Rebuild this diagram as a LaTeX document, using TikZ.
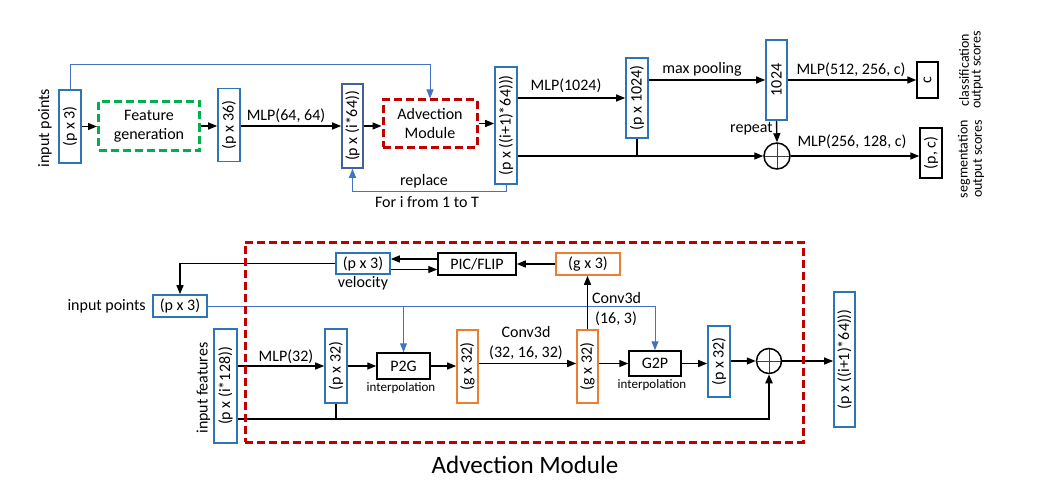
\documentclass[tikz,border=0pt]{standalone}
\usepackage{fontspec}
\setmainfont{Carlito}
\usepackage{graphicx}
\usetikzlibrary{arrows.meta}
\definecolor{boxblue}{HTML}{2E75B6}
\definecolor{navyblue}{HTML}{44619E}
\definecolor{linkblue}{HTML}{4472C4}
\definecolor{boxorange}{HTML}{ED7D31}
\definecolor{darkred}{HTML}{C00000}
\definecolor{fgreen}{HTML}{00B050}
\newcommand{\rotlabel}[1]{\rotatebox{90}{#1}}
\begin{document}
\begin{tikzpicture}[x=1pt,y=-1pt, font=\fontsize{16}{19}\selectfont,
  bbox/.style={draw=boxblue, line width=1.6pt, inner sep=0pt, fill=white},
  nbox/.style={draw=navyblue, line width=1.6pt, inner sep=0pt, fill=white},
  obox/.style={draw=boxorange, line width=1.6pt, inner sep=0pt, fill=white},
  kbox/.style={draw=black, line width=1.5pt, inner sep=0pt, fill=white},
  reddash/.style={draw=darkred, line width=3pt, dash pattern=on 8pt off 4pt, inner sep=0pt, align=center},
  greendash/.style={draw=fgreen, line width=3pt, dash pattern=on 8pt off 4pt, inner sep=0pt, align=center},
  arr/.style={line width=1.4pt, -{Triangle[length=9pt,width=7pt]}},
  plainln/.style={line width=1.4pt},
  blarr/.style={draw=linkblue, line width=1pt, -{Triangle[length=9pt,width=7pt]}},
  blln/.style={draw=linkblue, line width=1pt},
  oplus/.style={circle, draw, line width=1.5pt, minimum size=26pt, inner sep=0pt,
    path picture={\draw[line width=0.7pt, black!75] (path picture bounding box.north) -- (path picture bounding box.south) (path picture bounding box.west) -- (path picture bounding box.east);}},
  lbl/.style={inner sep=0pt},
  small/.style={inner sep=0pt, font=\fontsize{13}{15}\selectfont},
  side/.style={inner sep=0pt, font=\fontsize{14}{18}\selectfont, align=center}
]
\useasboundingbox (0,0) rectangle (1038,500);

% ---------------- top network ----------------
\node[lbl] (inlab) at (45,128) {\rotlabel{input points}};
\node[bbox, minimum width=22pt, minimum height=73pt] (in3) at (70,126.5) {\rotlabel{(p x 3)}};
\node[greendash, minimum width=101pt, minimum height=49pt] (feat) at (149,126) {Feature\\generation};
\node[bbox, minimum width=22pt, minimum height=73pt] (p36) at (229,125) {\rotlabel{(p x 36)}};
\node[nbox, minimum width=21pt, minimum height=84pt] (pi64) at (352.5,126) {\rotlabel{(p x (i*64))}};
\node[reddash, minimum width=94pt, minimum height=47pt] (adv) at (430,123.5) {Advection\\Module};
\node[bbox, minimum width=22pt, minimum height=117pt] (pi1) at (506,125.5) {\rotlabel{(p x ((i+1)*64)))}};
\node[bbox, minimum width=22pt, minimum height=80pt] (p1024) at (637,98) {\rotlabel{(p x 1024)}};
\node[bbox, minimum width=21pt, minimum height=80pt] (m1024) at (776.5,80) {\rotlabel{1024}};
\node[kbox, minimum width=21pt, minimum height=36pt] (cbox) at (927.5,80) {\rotlabel{c}};
\node[kbox, minimum width=22pt, minimum height=50pt] (pc) at (931,153) {\rotlabel{(p, c)}};
\node[oplus] (op1) at (777,156) {};
\node[side] (clab) at (971,70) {\rotlabel{\shortstack{classification\\output scores}}};
\node[side] (slab) at (971,159) {\rotlabel{\shortstack{segmentation\\output scores}}};

\draw[arr] (in3.east) -- (in3.east -| feat.west);
\draw[arr] (feat.east) -- (feat.east -| p36.west);
\draw[arr] (p36.east |- pi64.west) -- (pi64.west);
\node[lbl] (l6464) at (286,116) {MLP(64, 64)};
\draw[arr] (pi64.east) -- (pi64.east -| adv.west);
\draw[arr] (adv.east) -- (adv.east -| pi1.west);
\draw[arr] (pi1.east |- p1024.west) -- (p1024.west);
\node[lbl] (l1024) at (566,86) {MLP(1024)};
\draw[arr] (p1024.east |- m1024.west) -- (m1024.west);
\node[lbl] (lmax) at (702,69) {max pooling};
\draw[arr] (m1024.east) -- (m1024.east -| cbox.west);
\node[lbl] (l512) at (851,70) {MLP(512, 256, c)};
\draw[arr] (pi1.east |- op1.west) -- (op1.west);
\draw[plainln] (p1024.south) -- (p1024.south |- op1.west);
\draw[arr] (m1024.south) -- (op1.north);
\node[lbl, anchor=east] (lrep) at (773,129) {repeat};
\draw[arr] (op1.east) -- (op1.east -| pc.west);
\node[lbl] (l256) at (852,142) {MLP(256, 128, c)};

\draw[blarr] (in3.north) -- ++(0,-25) -| (adv.north);
\draw[blarr] (pi1.south) -- ++(0,7) -| (pi64.south);
\node[lbl] (lrepl) at (424,181) {replace};
\node[lbl] (lfor) at (427,202) {For i from 1 to T};

% ---------------- advection module ----------------
\node[lbl, font=\fontsize{25}{30}\selectfont] (title) at (525,465) {Advection Module};

\node[bbox, minimum width=54pt, minimum height=21pt] (vel) at (363,263.5) {(p x 3)};
\node[lbl] (lvel) at (363,283) {velocity};
\node[kbox, minimum width=78pt, minimum height=22pt] (pic) at (477,264) {PIC/FLIP};
\node[obox, minimum width=64pt, minimum height=22pt] (g3) at (588,264) {(g x 3)};
\node[bbox, minimum width=54pt, minimum height=22pt] (inpt) at (180,306) {(p x 3)};
\node[lbl, anchor=east] (linpt) at (146,306) {input points};
\node[lbl] (lfeat) at (203.5,388) {\rotlabel{input features}};
\node[bbox, minimum width=23pt, minimum height=114pt] (pfeat) at (225.5,386) {\rotlabel{(p x (i*128))}};
\node[bbox, minimum width=22pt, minimum height=74pt] (p32a) at (336,366) {\rotlabel{(p x 32)}};
\node[kbox, minimum width=53pt, minimum height=26pt] (p2g) at (403.5,366) {P2G};
\node[small] (lint1) at (401,388) {interpolation};
\node[obox, minimum width=21pt, minimum height=73pt] (g32a) at (467.5,366.5) {\rotlabel{(g x 32)}};
\node[obox, minimum width=21pt, minimum height=73pt] (g32b) at (587.5,366.5) {\rotlabel{(g x 32)}};
\node[kbox, minimum width=52pt, minimum height=25pt] (g2p) at (655,363.5) {G2P};
\node[small] (lint2) at (652,385) {interpolation};
\node[bbox, minimum width=22pt, minimum height=71pt] (p32b) at (719,361.5) {\rotlabel{(p x 32)}};
\node[oplus, minimum size=25pt] (op2) at (769,361) {};
\node[bbox, minimum width=21pt, minimum height=135pt] (out) at (844.5,359.5) {\rotlabel{(p x ((i+1)*64)))}};

\draw[arr] (g3.west) -- (pic.east);
\draw[arr] ([yshift=5pt]pic.west) -- ([yshift=5pt]pic.west -| vel.east);
\draw[arr] ([yshift=-6pt]vel.east) -- ([yshift=-6pt]vel.east -| pic.west);
\draw[arr] (vel.west) -| (inpt.north);
\draw[blarr] (inpt.east) -| (g2p.north);
\draw[blarr] (inpt.east -| p2g.north) -- (p2g.north);
\draw[arr] (pfeat.east |- p32a.west) -- (p32a.west);
\node[lbl] (lmlp32) at (286,357) {MLP(32)};
\draw[arr] (p32a.east) -- (p2g.west);
\draw[arr] (p2g.east) -- (p2g.east -| g32a.west);
\draw[arr] ([yshift=3pt]g32a.east) -- ([yshift=3pt]g32b.west);
\node[lbl] (lc1) at (526,332) {Conv3d};
\node[lbl] (lc2) at (526,353) {(32, 16, 32)};
\draw[arr] (g32b.north) -- (g32b.north |- g3.south);
\node[lbl, anchor=west] (lc3) at (592,298) {Conv3d};
\node[lbl, anchor=west] (lc4) at (595,319) {(16, 3)};
\draw[arr] (g32b.east |- g2p.west) -- (g2p.west);
\draw[arr] (g2p.east) -- (g2p.east -| p32b.west);
\draw[arr] (p32b.east |- op2.west) -- (op2.west);
\draw[arr] (op2.east) -- (op2.east -| out.west);
\coordinate (bot) at ([yshift=-33pt]pfeat.east);
\draw[line width=2pt, -{Triangle[length=9pt,width=7pt]}] (bot) -| (op2.south);
\draw[line width=2pt] (p32a.south) -- (p32a.south |- bot);

% dashed frame drawn on top of the connectors it crosses
\node[reddash, minimum width=558pt, minimum height=200pt] (frame) at (524,342) {};
\end{tikzpicture}
\end{document}
